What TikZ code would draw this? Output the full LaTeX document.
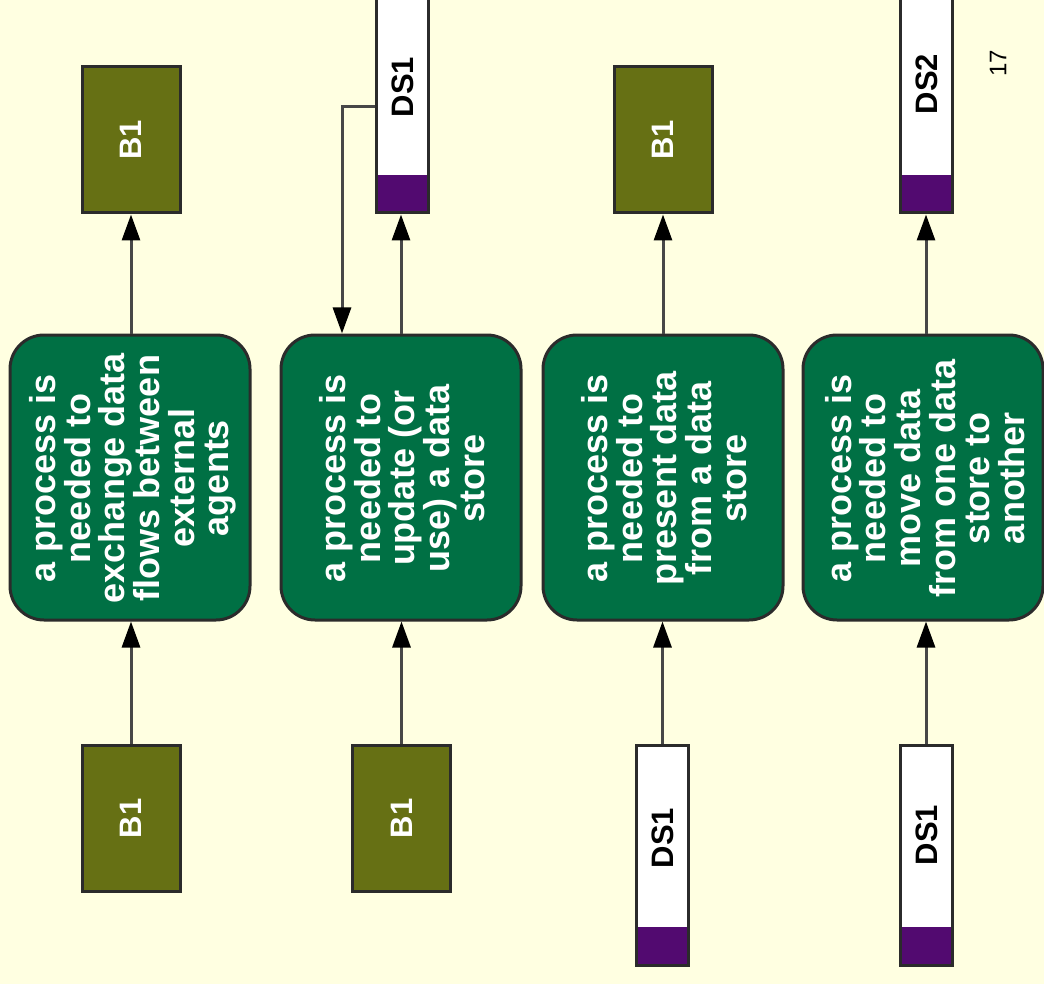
\documentclass[tikz,border=0pt]{standalone}
\usepackage{fontspec}
\setmainfont{Liberation Sans}
\usetikzlibrary{arrows.meta}
\definecolor{pagebg}{HTML}{FFFFE1}
\definecolor{agentolive}{HTML}{667014}
\definecolor{procgreen}{HTML}{007044}
\definecolor{dspurple}{HTML}{520A70}
\definecolor{boxedge}{HTML}{2B2B2B}
\definecolor{flowgray}{HTML}{474747}
\begin{document}
\begin{tikzpicture}[x=1pt,y=-1pt,
  agent/.style={draw=boxedge, line width=3pt, fill=agentolive,
    minimum width=98pt, minimum height=146pt, inner sep=0pt},
  process/.style={draw=boxedge, line width=3pt, fill=procgreen,
    rounded corners=34pt, minimum width=240pt, minimum height=285pt, inner sep=0pt},
  store/.style={draw=boxedge, line width=3pt, fill=white, minimum width=52pt,
    inner sep=0pt,
    path picture={\fill[dspurple] (path picture bounding box.south west)
      rectangle ([yshift=38pt]path picture bounding box.south east);}},
  proctext/.style={rotate=90, text=white, align=center,
    font=\fontsize{36}{34.6}\selectfont\bfseries},
  agenttext/.style={rotate=90, text=white, font=\fontsize{31}{31}\selectfont\bfseries},
  storetext/.style={rotate=90, text=black, font=\fontsize{31}{31}\selectfont\bfseries},
  flow/.style={draw=flowgray, line width=3pt,
    -{Triangle[length=26pt,width=18pt,black]}}
]
\useasboundingbox (0,0) rectangle (1044,984);
\clip (0,0) rectangle (1044,984);
\fill[pagebg] (0,0) rectangle (1044,984);

% --- exchange between external agents
\node[process] (p1) at (130,477.5) {};
\node[proctext] (p1t) at (133,478) {a process is\\needed to\\exchange data\\flows between\\external\\agents};
\node[agent] (a1top) at (131,140) {};
\node[agenttext] (a1topt) at (131,140) {B1};
\node[agent] (a1bot) at (131,818.5) {};
\node[agenttext] (a1bott) at (131,818.5) {B1};
\draw[flow] (a1bot.north) -- (a1bot.north |- p1.south);
\draw[flow] (p1.north -| a1top) -- (a1top.south);

% --- update or use a data store
\node[process] (p2) at (401,477.5) {};
\node[proctext] (p2t) at (402,478) {a process is\\needed to\\update (or\\use) a data\\store};
\node[store, minimum height=223pt] (s2top) at (402,101.5) {};
\node[storetext] (s2topt) at (403,87) {DS1};
\node[agent] (a2bot) at (401.5,818.5) {};
\node[agenttext] (a2bott) at (401.5,818.5) {B1};
\draw[flow] (a2bot.north) -- (a2bot.north |- p2.south);
\draw[flow] (p2.north) -- (p2.north |- s2top.south);
\coordinate (elbow) at (342,107);
\draw[flow] (s2top.west |- elbow) -- (elbow) -- (elbow |- p2.north);

% --- present data from a data store
\node[process] (p3) at (663,477.5) {};
\node[proctext] (p3t) at (664,478) {a process is\\needed to\\present data\\from a data\\store};
\node[agent] (a3top) at (663,140) {};
\node[agenttext] (a3topt) at (663,140) {B1};
\node[store, minimum height=220pt] (s3bot) at (662.5,855) {};
\node[storetext] (s3bott) at (663,838) {DS1};
\draw[flow] (s3bot.north) -- (s3bot.north |- p3.south);
\draw[flow] (p3.north -| a3top) -- (a3top.south);

% --- move data between data stores
\node[process] (p4) at (923,477.5) {};
\node[proctext] (p4t) at (925,478) {a process is\\needed to\\move data\\from one data\\store to\\another};
\node[store, minimum height=223pt] (s4top) at (926,101.5) {};
\node[storetext] (s4topt) at (927,84) {DS2};
\node[store, minimum height=220pt] (s4bot) at (926,855) {};
\node[storetext] (s4bott) at (927,835) {DS1};
\draw[flow] (s4bot.north) -- (s4bot.north |- p4.south);
\draw[flow] (s4bot.north |- p4.north) -- (s4top.south);

% --- page number
\node[rotate=90, font=\fontsize{24}{24}\selectfont] (pagenum) at (998,63) {17};
\end{tikzpicture}
\end{document}
